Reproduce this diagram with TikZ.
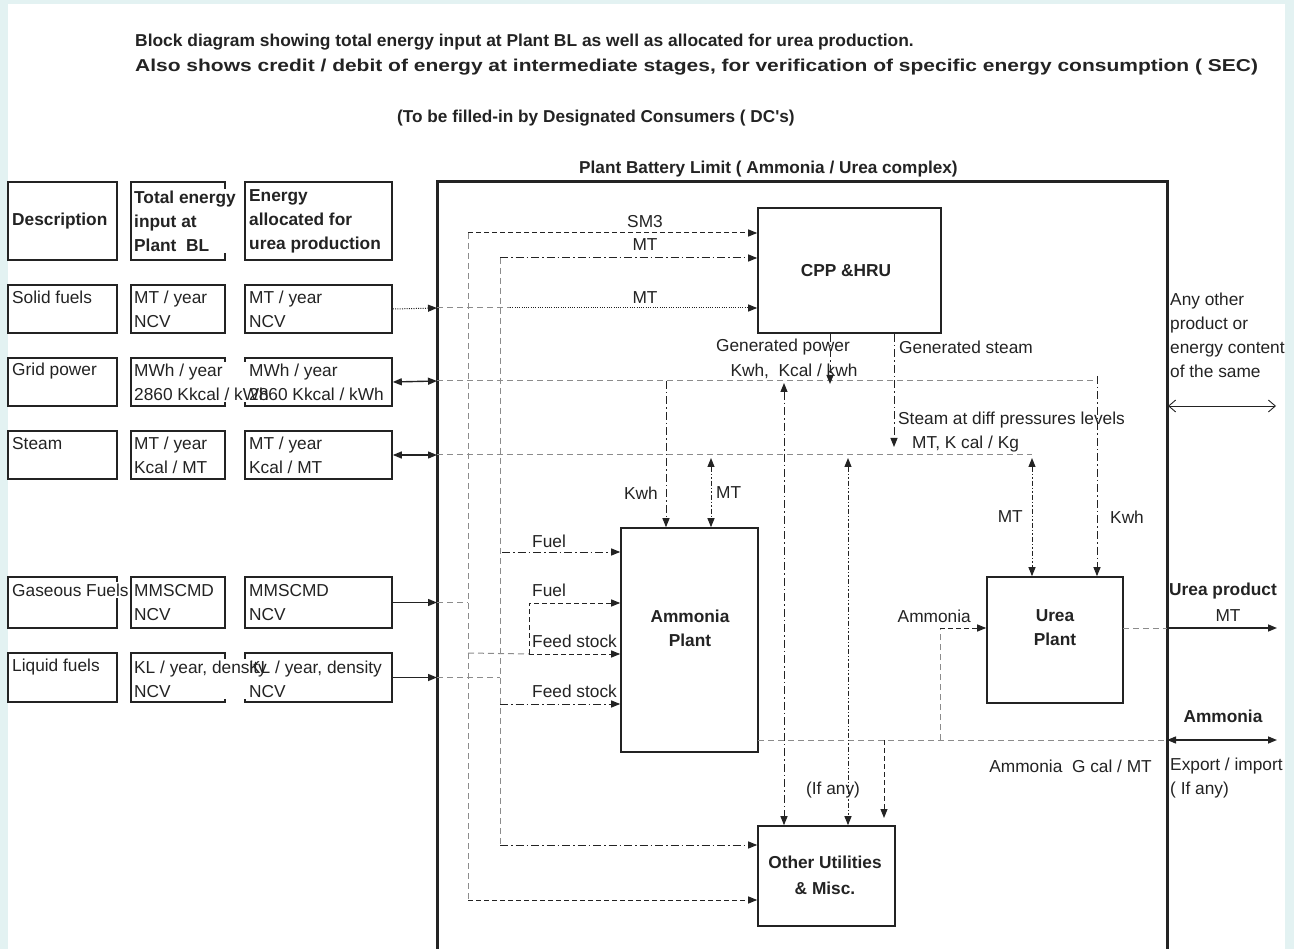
\documentclass[tikz,border=0pt]{standalone}
\usepackage{fontspec}
\setmainfont{Liberation Sans}
\usetikzlibrary{arrows.meta}
\pgfdeclarelayer{boxes}
\pgfdeclarelayer{masks}
\pgfsetlayers{boxes,masks,main}
\definecolor{pagebg}{RGB}{227,242,242}
\definecolor{ink}{RGB}{35,35,35}
\newcommand\lblfont{\fontsize{17.3}{24}\selectfont}
% table cell text: a white patch on the mask layer hides box borders behind the text
\newcommand\tcell[4]{%
  \begin{pgfonlayer}{masks}
    \node[#2, fill=white, text=white, inner ysep=2pt] (#1-m) at #3 {#4};
  \end{pgfonlayer}
  \node[#2] (#1) at #3 {#4};}
\begin{document}
\begin{tikzpicture}[x=1pt,y=-1pt,
  lab/.style={font=\lblfont, text=ink, inner sep=0pt, align=left},
  blab/.style={font=\lblfont\bfseries, text=ink, inner sep=0pt, align=center},
  headt/.style={lab, font=\fontsize{17.2}{20}\selectfont\bfseries, anchor=west},
  cellt/.style={lab, anchor=west},
  cellb/.style={lab, font=\lblfont\bfseries, anchor=west},
  box/.style={draw=ink, line width=1.6pt, inner sep=0pt},
  gline/.style={draw=black!45, line width=1pt, dash pattern=on 6pt off 4pt},
  dline/.style={draw=ink, line width=1pt, dash pattern=on 5pt off 3pt},
  ddot/.style={draw=ink, line width=1pt, dash pattern=on 8pt off 3pt on 1.5pt off 3pt},
  dddot/.style={draw=ink, line width=1pt, dash pattern=on 5pt off 2pt on 1.5pt off 2pt on 1.5pt off 2pt},
  dotl/.style={draw=ink, line width=1pt, dash pattern=on 1pt off 1.3pt},
  sline/.style={draw=ink, line width=1.4pt},
  >={Triangle[length=9pt,width=7pt]}]

\useasboundingbox (0,0) rectangle (1294,949);

\begin{pgfonlayer}{boxes}
  \fill[pagebg] (0,0) rectangle (1294,949);
  \fill[white] (8,4) rectangle (1285,949);
  % plant battery limit frame (open at the bottom edge of the sheet)
  \node[draw=ink, line width=3pt, minimum width=730pt, minimum height=820pt, inner sep=0pt] (plant) at (802,592) {};
  % table boxes: columns a, b, c
  \foreach \r/\cy/\h in {hd/221/78, so/309/48, gr/382/48, st/455/48, ga/602.5/51, li/677.5/49}{
    \node[box, minimum width=109pt, minimum height=\h pt] (\r-a) at (62.5,\cy) {};
    \node[box, minimum width=94pt,  minimum height=\h pt] (\r-b) at (178,\cy) {};
    \node[box, minimum width=147pt, minimum height=\h pt] (\r-c) at (318.5,\cy) {};
  }
\end{pgfonlayer}

% headings
\node[headt] (title1) at (135,42)
  {\scalebox{1.012}[1]{Block diagram showing total energy input at Plant BL as well as allocated for urea production.}};
\node[headt] (title2) at (135,67)
  {\scalebox{1.22}[1]{Also shows credit / debit of energy at intermediate stages, for verification of specific energy consumption ( SEC)}};
\node[headt] (title3) at (397,118)
  {(To be filled-in by Designated Consumers ( DC\textquotesingle s)};
\node[headt] (pbl) at (579,169)
  {Plant Battery Limit ( Ammonia / Urea complex)};

% table texts
\tcell{hd-a-t}{cellb}{(12,221)}{Description}
\tcell{hd-b-t}{cellb}{(134,221)}{Total energy\\input at\\Plant\ \ BL}
\tcell{hd-c-t}{cellb}{(249,221)}{Energy\\allocated for\\urea production}
\tcell{so-a-t}{cellt}{(12,297)}{Solid fuels}
\tcell{so-b-t}{cellt}{(134,309)}{MT / year\\NCV}
\tcell{so-c-t}{cellt}{(249,309)}{MT / year\\NCV}
\tcell{gr-a-t}{cellt}{(12,371)}{Grid power}
\tcell{gr-b-t}{cellt}{(134,382)}{MWh / year\\2860 Kkcal / kWh}
\tcell{gr-c-t}{cellt}{(249,382)}{MWh / year\\2860 Kkcal / kWh}
\tcell{st-a-t}{cellt}{(12,444)}{Steam}
\tcell{st-b-t}{cellt}{(134,455.5)}{MT / year\\Kcal / MT}
\tcell{st-c-t}{cellt}{(249,455.5)}{MT / year\\Kcal / MT}
\tcell{ga-a-t}{cellt}{(12,590)}{Gaseous Fuels}
\tcell{ga-b-t}{cellt}{(134,602.5)}{MMSCMD\\NCV}
\tcell{ga-c-t}{cellt}{(249,602.5)}{MMSCMD\\NCV}
\tcell{li-a-t}{cellt}{(12,667)}{Liquid fuels}
\tcell{li-b-t}{cellt}{(134,679)}{KL / year, density\\NCV}
\tcell{li-c-t}{cellt}{(249,679)}{KL / year, density\\NCV}

% process blocks
\node[box, minimum width=183pt, minimum height=125pt] (cpp) at (849.5,270.5) {};
\node[box, minimum width=137pt, minimum height=224pt] (amm) at (689.5,640) {};
\node[box, minimum width=136pt, minimum height=126pt] (urea) at (1055,640) {};
\node[box, minimum width=137pt, minimum height=100pt] (ou) at (826.5,876) {};
\node[blab] (cpp-t) at (846,271) {CPP \&HRU};
\node[blab, font=\fontsize{17.3}{24}\selectfont\bfseries] (amm-t) at (690,628) {Ammonia\\Plant};
\node[blab, font=\fontsize{17.3}{24}\selectfont\bfseries] (urea-t) at (1055,628) {Urea\\Plant};
\node[blab, font=\fontsize{17.3}{26}\selectfont\bfseries] (ou-t) at (825,875) {Other Utilities\\\& Misc.};

% junction points
\coordinate (sA) at (437,308);   \coordinate (sB) at (510,308);
\coordinate (gA) at (437,381);   \coordinate (gK) at (1097,381);
\coordinate (kwU) at (1097,376);
\coordinate (stA) at (437,455);  \coordinate (stM) at (1032,455);
\coordinate (mtU) at (1032,458);
\coordinate (gaA) at (437,602.5);  \coordinate (gaB) at (468,602.5);
\coordinate (lA) at (437,677.5);   \coordinate (lB) at (500,677.5);
\coordinate (v1t) at (468,233);  \coordinate (v1b) at (468,900);
\coordinate (v2t) at (500,258);  \coordinate (v2b) at (500,845);
\coordinate (fuelA) at (502,552);
\coordinate (fsJ) at (468,653);  \coordinate (fj) at (529,654);  \coordinate (fk) at (529,603);
\coordinate (fsB) at (500,704);
\coordinate (gpT) at (830,334);  \coordinate (gpB) at (830,384);
\coordinate (gsT) at (894,334);  \coordinate (gsB) at (894,447);
\coordinate (kwA) at (666,381);
\coordinate (mtA) at (711,458);
\coordinate (amO) at (758,740);  \coordinate (amE) at (1167,740);  \coordinate (amX) at (1277,740);
\coordinate (amJ) at (940,740);  \coordinate (amK) at (940,628);
\coordinate (urO) at (1123,628); \coordinate (urE) at (1167,628);  \coordinate (urX) at (1277,628);
\coordinate (ou1) at (784,383);  \coordinate (ou2) at (848,458);
\coordinate (ou3) at (884,740);  \coordinate (ou3b) at (884,818);
\coordinate (anyL) at (1168,406); \coordinate (anyR) at (1276,406);

% feeds across the battery limit
\draw[dotl,->] (so-c.east) -- (sA);
\draw[gline] (sA) -- (sB);
\draw[dotl,->] (sB) -- (sB -| cpp.west);
\draw[sline,<->] (gr-c.east) -- (gA);
\draw[gline] (gA) -- (gK);
\draw[ddot,->] (kwU) -- (kwU |- urea.north);
\draw[sline,<->] (st-c.east) -- (stA);
\draw[gline] (stA) -- (stM);
\draw[dddot,<->] (mtU) -- (mtU |- urea.north);
\draw[sline,->] (ga-c.east) -- (gaA);
\draw[gline] (gaA) -- (gaB);
\draw[sline,->] (li-c.east) -- (lA);
\draw[gline] (lA) -- (lB);

% distribution headers
\draw[gline] (v1t) -- (v1b);
\draw[gline] (v2t) -- (v2b);
\draw[dline,->] (v1t) -- (v1t -| cpp.west);
\draw[ddot,->] (v2t) -- (v2t -| cpp.west);
\draw[ddot,->] (fuelA) -- (fuelA -| amm.west);
\draw[gline] (fsJ) -- (fj);
\draw[dline,->] (fj) -- (fj -| amm.west);
\draw[dline,->] (fj) -- (fk) -- (fk -| amm.west);
\draw[ddot,->] (fsB) -- (fsB -| amm.west);
\draw[ddot,->] (v2b) -- (v2b -| ou.west);
\draw[dline,->] (v1b) -- (v1b -| ou.west);

% CPP outputs
\draw[ddot,->] (gpT) -- (gpB);
\draw[ddot,->] (gsT) -- (gsB);

% ammonia plant supplies and product
\draw[ddot,->] (kwA) -- (kwA |- amm.north);
\draw[dddot,<->] (mtA) -- (mtA |- amm.north);
\draw[gline] (amO) -- (amE);
\draw[gline] (amJ) -- (amK);
\draw[dline,->] (amK) -- (amK -| urea.west);
\draw[sline,<->] (amE) -- (amX);

% urea product
\draw[gline] (urO) -- (urE);
\draw[sline,->] (urE) -- (urX);

% other utilities
\draw[ddot,<->] (ou1) -- (ou1 |- ou.north);
\draw[dddot,<->] (ou2) -- (ou2 |- ou.north);
\draw[dline,->] (ou3) -- (ou3b);

% any other product
\draw[ink, line width=0.9pt, {Straight Barb[length=7pt,width=12pt]}-{Straight Barb[length=7pt,width=12pt]}] (anyL) -- (anyR);

% labels
\node[lab] (l-sm3) at (645,222) {SM3};
\node[lab] (l-mt1) at (645,245) {MT};
\node[lab] (l-mt2) at (645,298) {MT};
\node[lab] (l-gp) at (783,347) {Generated power};
\node[lab] (l-gpu) at (794,371) {Kwh,\ \ Kcal / kwh};
\node[lab, anchor=west] (l-gs) at (899,347) {Generated steam};
\node[lab, anchor=west] (l-sdp) at (898,420) {Steam at diff pressures levels};
\node[lab, anchor=west] (l-sdpu) at (912,444) {MT, K cal / Kg};
\node[lab, anchor=east] (l-kwa) at (658,493) {Kwh};
\node[lab, anchor=west] (l-mta) at (716,493) {MT};
\node[lab, anchor=east] (l-mtu) at (1023,517) {MT};
\node[lab, anchor=west] (l-kwu) at (1110,517) {Kwh};
\node[lab, anchor=west] (l-f1) at (532,541) {Fuel};
\node[lab, anchor=west] (l-f2) at (532,590) {Fuel};
\node[lab, anchor=west] (l-fs1) at (532,641) {Feed stock};
\node[lab, anchor=west] (l-fs2) at (532,691) {Feed stock};
\node[lab, anchor=east] (l-amin) at (971,616) {Ammonia};
\node[lab] (l-ifany) at (833,790) {(If any)};
\node[lab, anchor=east] (l-amgc) at (1152,766) {Ammonia\ \ G cal / MT};
\node[lab, anchor=west] (l-any) at (1170,335) {Any other\\product or\\energy content\\of the same};
\node[blab] (l-up) at (1223,591) {Urea product};
\node[lab] (l-upmt) at (1228,616) {MT};
\node[blab] (l-amx) at (1223,716) {Ammonia};
\node[lab, anchor=west] (l-exim) at (1170,778) {Export / import\\( If any)};

\end{tikzpicture}
\end{document}
